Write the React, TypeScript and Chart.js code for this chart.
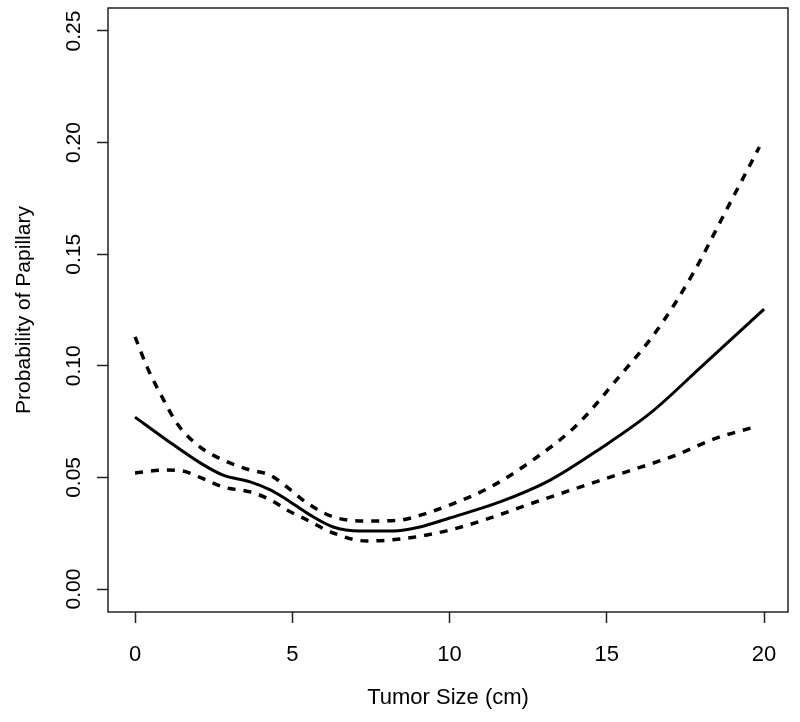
import React, { useEffect, useRef } from "react";
import { Chart, registerables } from "chart.js";

Chart.register(...registerables);

// Fitted probability (solid line)
const fitX = [0, 1.0, 2.07, 2.8, 3.66, 4.3, 4.83, 5.47, 6.3, 7.15, 8.2, 9.06, 10, 11.6, 13.2, 14.8, 16.4, 18.0, 20];
const fitY = [0.077, 0.0668, 0.0565, 0.051, 0.048, 0.0444, 0.04, 0.034, 0.0278, 0.026, 0.026, 0.0278, 0.0318, 0.039, 0.0488, 0.063, 0.079, 0.0995, 0.1254];

// Upper confidence band (dashed)
const upperX = [0, 0.38, 0.86, 1.37, 2.07, 2.8, 3.66, 4.3, 4.83, 5.47, 6.3, 7.37, 8.43, 9.28, 10, 11.3, 12.65, 14.05, 15.3, 16.6, 17.75, 18.8, 19.85];
const upperY = [0.113, 0.0995, 0.086, 0.0735, 0.0636, 0.0578, 0.0533, 0.051, 0.0457, 0.0385, 0.0323, 0.0305, 0.0309, 0.034, 0.0376, 0.0457, 0.0578, 0.0735, 0.0936, 0.116, 0.1416, 0.1698, 0.198];

// Lower confidence band (dashed)
const lowerX = [0, 1.0, 1.5, 2.07, 2.8, 3.66, 4.3, 4.83, 5.47, 6.3, 7.37, 8.43, 9.28, 10, 11.1, 12.45, 14.05, 15.6, 17.2, 18.5, 19.7];
const lowerY = [0.052, 0.0533, 0.0529, 0.05, 0.0457, 0.0435, 0.04, 0.0354, 0.0309, 0.0251, 0.0215, 0.0224, 0.0242, 0.0264, 0.0309, 0.0376, 0.0452, 0.0524, 0.06, 0.0677, 0.0726];

const xTickValues = [0, 5, 10, 15, 20];
const xTickLabels = ["0", "5", "10", "15", "20"];
const yTickValues = [0, 0.05, 0.1, 0.15, 0.2, 0.25];
const yTickLabels = ["0.00", "0.05", "0.10", "0.15", "0.20", "0.25"];

const xTitle = "Tumor Size (cm)";
const yTitle = "Probability of Papillary";

const FONT = '"Liberation Sans", Arial, Helvetica, sans-serif';

const zip = (xs: number[], ys: number[]) => xs.map((x, i) => ({ x, y: ys[i] }));

export default function App() {
  const ref = useRef<HTMLCanvasElement>(null);

  useEffect(() => {
    if (!ref.current) return;

    const rPlot = {
      id: "rPlot",
      afterDraw(chart: any) {
        const { ctx, chartArea } = chart;
        const { left, top, right, bottom } = chartArea;
        ctx.save();
        ctx.strokeStyle = "#222";
        ctx.lineWidth = 1.5;
        ctx.strokeRect(left, top, right - left, bottom - top);

        const ys = chart.scales.y;
        ctx.font = `21px ${FONT}`;
        ctx.fillStyle = "#000";
        ctx.textAlign = "center";
        ctx.textBaseline = "middle";
        yTickValues.forEach((v, i) => {
          const py = ys.getPixelForValue(v);
          ctx.save();
          ctx.translate(ys.right - 34, py);
          ctx.rotate(-Math.PI / 2);
          ctx.fillText(yTickLabels[i], 0, 0);
          ctx.restore();
        });
        ctx.restore();
      },
    };

    const gridOpts = {
      drawOnChartArea: false,
      drawTicks: true,
      tickLength: 11,
      tickColor: "#222",
      tickWidth: 1.5,
    };

    const chart = new Chart(ref.current, {
      type: "line",
      data: {
        datasets: [
          {
            data: zip(fitX, fitY),
            borderColor: "#000",
            borderWidth: 3,
            pointRadius: 0,
            cubicInterpolationMode: "monotone",
            fill: false,
          },
          {
            data: zip(upperX, upperY),
            borderColor: "#000",
            borderWidth: 3.5,
            borderDash: [8, 8],
            pointRadius: 0,
            cubicInterpolationMode: "monotone",
            fill: false,
          },
          {
            data: zip(lowerX, lowerY),
            borderColor: "#000",
            borderWidth: 3.5,
            borderDash: [8, 8],
            pointRadius: 0,
            cubicInterpolationMode: "monotone",
            fill: false,
          },
        ],
      },
      options: {
        animation: false,
        responsive: false,
        maintainAspectRatio: false,
        layout: { padding: { left: 0, top: 8, right: 12, bottom: 0 } },
        plugins: { legend: { display: false }, tooltip: { enabled: false } },
        scales: {
          x: {
            type: "linear",
            min: -0.86,
            max: 20.76,
            afterBuildTicks: (s: any) => {
              s.ticks = xTickValues.map((v) => ({ value: v }));
            },
            afterFit: (s: any) => {
              s.height = 110;
            },
            grid: gridOpts,
            border: { display: false },
            ticks: {
              autoSkip: false,
              maxRotation: 0,
              padding: 19,
              color: "#000",
              font: { size: 22, family: FONT },
              callback: (v: any) => {
                const i = xTickValues.indexOf(Number(v));
                return i >= 0 ? xTickLabels[i] : "";
              },
            },
            title: {
              display: true,
              text: xTitle,
              color: "#000",
              font: { size: 22, family: FONT },
              padding: { top: 0, bottom: 11 },
            },
          },
          y: {
            type: "linear",
            min: -0.0103,
            max: 0.2603,
            afterBuildTicks: (s: any) => {
              s.ticks = yTickValues.map((v) => ({ value: v }));
            },
            afterFit: (s: any) => {
              s.width = 108;
            },
            grid: gridOpts,
            border: { display: false },
            ticks: { display: false },
            title: {
              display: true,
              text: yTitle,
              color: "#000",
              font: { size: 21, family: FONT },
              padding: { top: 12, bottom: 0 },
            },
          },
        },
      },
      plugins: [rPlot],
    } as any);

    return () => chart.destroy();
  }, []);

  return (
    <div style={{ position: "fixed", left: 0, top: 0, width: 800, height: 722, background: "#fff" }}>
      <canvas ref={ref} width={800} height={722} style={{ display: "block" }} />
    </div>
  );
}
